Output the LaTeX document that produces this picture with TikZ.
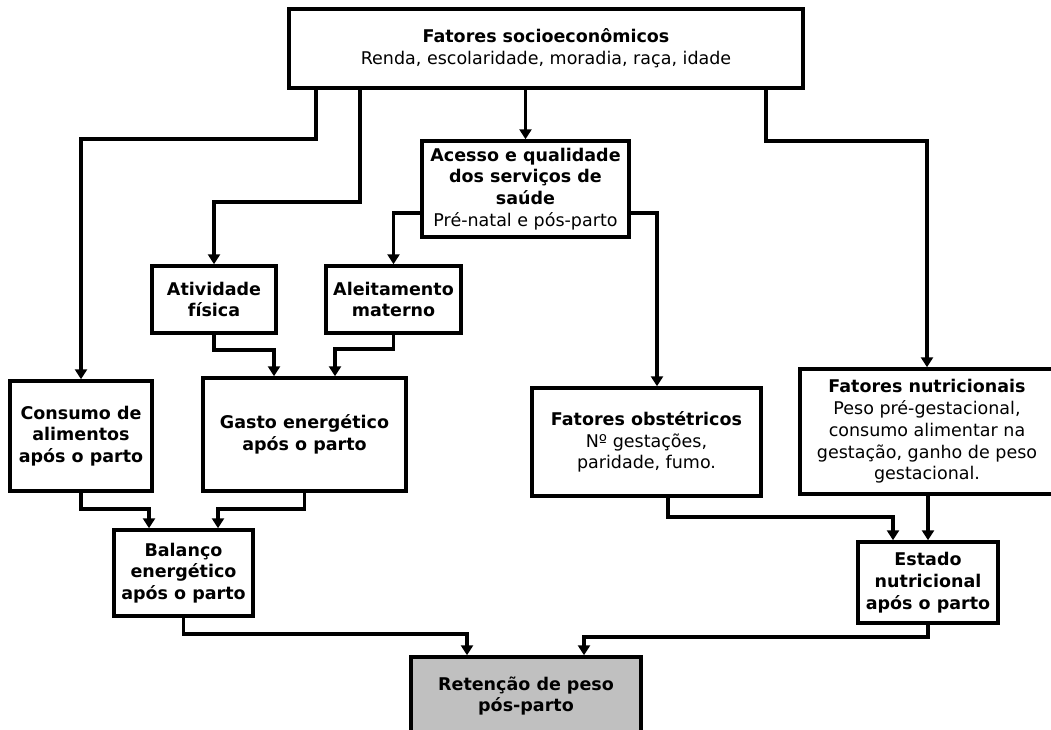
\documentclass[tikz,border=0pt]{standalone}
\usepackage{fontspec}
\setmainfont{DejaVu Sans}
\usetikzlibrary{arrows.meta}
\tikzset{
  box/.style={draw=black, line width=3.5pt, fill=white, rectangle, inner sep=0pt, align=center,
    font=\fontsize{17.5}{21.8}\selectfont},
  conn/.style={line width=3.5pt, -{Triangle[length=10pt,width=12pt]}},
}
\begin{document}
\begin{tikzpicture}[x=1pt,y=-1pt]
\clip (0,0) rectangle (1051,729);
\fill[white] (0,0) rectangle (1051,729);

\node[box, minimum width=514pt, minimum height=79pt] (top) at (546,48.5)
  {\textbf{Fatores socioeconômicos}\\Renda, escolaridade, moradia, raça, idade};
\node[box, minimum width=207pt, minimum height=96pt] (acc) at (525.5,189)
  {\textbf{Acesso e qualidade}\\\textbf{dos serviços de}\\\textbf{saúde}\\Pré-natal e pós-parto};
\node[box, minimum width=124pt, minimum height=67pt] (ativ) at (214,299.5)
  {\textbf{Atividade}\\\textbf{física}};
\node[box, minimum width=135pt, minimum height=67pt] (aleit) at (393.5,299.5)
  {\textbf{Aleitamento}\\\textbf{materno}};
\node[box, minimum width=142pt, minimum height=110pt] (cons) at (81,436)
  {\textbf{Consumo de}\\\textbf{alimentos}\\\textbf{após o parto}};
\node[box, minimum width=203pt, minimum height=113pt] (gasto) at (304.5,434.5)
  {\textbf{Gasto energético}\\\textbf{após o parto}};
\node[box, minimum width=139pt, minimum height=86pt] (bal) at (183.5,573)
  {\textbf{Balanço}\\\textbf{energético}\\\textbf{após o parto}};
\node[box, fill={rgb,255:red,192;green,192;blue,192}, minimum width=230pt, minimum height=78pt] (ret) at (526,696)
  {\textbf{Retenção de peso}\\\textbf{pós-parto}};
\node[box, minimum width=229pt, minimum height=108pt] (obst) at (646.5,442)
  {\textbf{Fatores obstétricos}\\Nº gestações,\\paridade, fumo.};
\node[box, minimum width=254pt, minimum height=125pt] (nutr) at (927,431.5)
  {\textbf{Fatores nutricionais}\\Peso pré-gestacional,\\consumo alimentar na\\gestação, ganho de peso\\gestacional.};
\node[box, minimum width=140pt, minimum height=81pt] (est) at (928,582.5)
  {\textbf{Estado}\\\textbf{nutricional}\\\textbf{após o parto}};

% connectors
\draw[conn] (top.south -| 316,0) -- (316,139) -| (cons.north);
\draw[conn] (top.south -| 360,0) -- (360,202) -| (ativ.north);
\draw[conn] (top.south -| acc.north) -- (acc.north);
\draw[conn] (top.south -| 766,0) -- (766,141) -| (nutr.north);
\draw[conn] (acc.west |- 0,213) -| (aleit.north);
\draw[conn] (acc.east |- 0,213) -| (obst.north -| 657,0);
\draw[conn] (ativ.south) -- (214,350) -| (gasto.north -| 274,0);
\draw[conn] (aleit.south) -- (393.5,349) -| (gasto.north -| 335,0);
\draw[conn] (cons.south) -- (81,509) -| (bal.north -| 149,0);
\draw[conn] (gasto.south) -- (304.5,509) -| (bal.north -| 218,0);
\draw[conn] (bal.south) -- (183.5,634) -| (ret.north -| 467,0);
\draw[conn] (obst.south -| 668,0) -- (668,517) -| (est.north -| 893,0);
\draw[conn] (nutr.south -| 928,0) -- (est.north -| 928,0);
\draw[conn] (est.south) -- (928,637) -| (ret.north -| 584,0);
\end{tikzpicture}
\end{document}
